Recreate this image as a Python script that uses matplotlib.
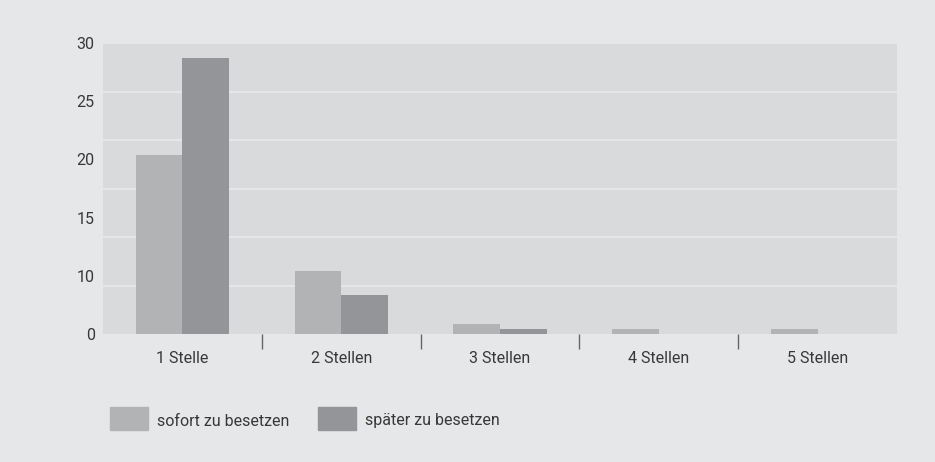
import matplotlib
matplotlib.use("Agg")
import matplotlib.pyplot as plt
from matplotlib.patches import Rectangle
import numpy as np

categories = ["1 Stelle", "2 Stellen", "3 Stellen", "4 Stellen", "5 Stellen"]
sofort = [18.5, 6.5, 1.0, 0.5, 0.5]
spaeter = [28.5, 4.0, 0.5, 0.0, 0.0]
series_names = ["sofort zu besetzen", "später zu besetzen"]
ytick_pos = [0, 6, 12, 18, 24, 30]
ytick_labels = ["0", "10", "15", "20", "25", "30"]

plt.rcParams["font.family"] = ["Roboto", "DejaVu Sans"]

BG = "#e6e7e8"
AX_BG = "#d9dadc"
C1 = "#b2b3b5"
C2 = "#939598"
TXT = "#383838"
FS = 11.5

W, H = 935, 462
fig = plt.figure(figsize=(W / 100, H / 100), dpi=100, facecolor=BG)
ax = fig.add_axes([103 / W, 1 - 334 / H, (897 - 103) / W, (334 - 43) / H])
ax.set_facecolor(AX_BG)

x = np.arange(len(categories))
bw = 0.293
ax.bar(x - bw / 2, sofort, bw, color=C1, zorder=3)
ax.bar(x + bw / 2, spaeter, bw, color=C2, zorder=3)

ax.set_xlim(-0.5, len(categories) - 0.5)
ax.set_ylim(0, 30)

for g in np.arange(5, 31, 5):
    ax.axhline(g, color="#e8e9ea", lw=1.2, zorder=1)

for s in ax.spines.values():
    s.set_visible(False)

ax.set_yticks(ytick_pos)
ax.set_yticklabels(ytick_labels)
ax.tick_params(axis="y", length=0, pad=6, labelsize=FS, labelcolor=TXT)

# separators between categories
ax.set_xticks(x[:-1] + 0.5, minor=True)
ax.tick_params(axis="x", which="minor", length=11, width=1, color="#666666", direction="out")
ax.set_xticks(x)
ax.set_xticklabels(categories)
ax.tick_params(axis="x", which="major", length=0, pad=12, labelsize=FS, labelcolor=TXT)

# legend drawn manually
leg = [(110, C1, series_names[0]), (318, C2, series_names[1])]
for px, col, name in leg:
    fig.add_artist(Rectangle((px / W, 1 - 430 / H), 38 / W, 23 / H,
                             transform=fig.transFigure, color=col))
    fig.text((px + 47) / W, 1 - 421 / H, name, ha="left", va="center",
             fontsize=FS, color=TXT)

fig.savefig("out.png", dpi=100, facecolor=BG)
